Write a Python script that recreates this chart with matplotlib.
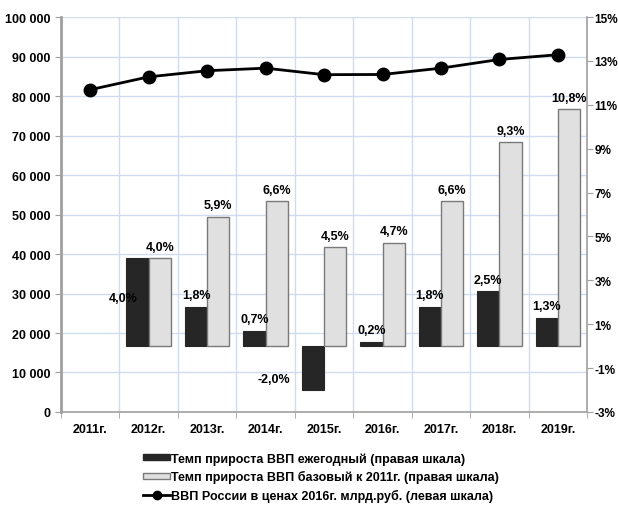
import numpy as np
import matplotlib.pyplot as plt
from matplotlib.ticker import FuncFormatter, MultipleLocator
from matplotlib.lines import Line2D
from matplotlib.patches import Patch

plt.rcParams['font.family'] = ['Liberation Sans', 'DejaVu Sans']
plt.rcParams['font.weight'] = 'bold'

years = ['2011г.', '2012г.', '2013г.', '2014г.', '2015г.', '2016г.', '2017г.', '2018г.', '2019г.']
annual = [np.nan, 4.0, 1.8, 0.7, -2.0, 0.2, 1.8, 2.5, 1.3]
base = [np.nan, 4.0, 5.9, 6.6, 4.5, 4.7, 6.6, 9.3, 10.8]
gdp = [81600, 84850, 86400, 87050, 85400, 85450, 87050, 89250, 90450]

lbl_annual = ['', '4,0%', '1,8%', '0,7%', '-2,0%', '0,2%', '1,8%', '2,5%', '1,3%']
lbl_base = ['', '4,0%', '5,9%', '6,6%', '4,5%', '4,7%', '6,6%', '9,3%', '10,8%']

dark = '#262626'
light = '#e0e0e0'
grid_c = '#cfdcf0'
spine_c = '#a0a0a0'

pos = [0.0987, 0.1838, 0.8513, 0.7806]
fig = plt.figure(figsize=(6.18, 5.06), dpi=100)
ax = fig.add_axes(pos)
ax2 = ax.twinx()

x = np.arange(len(years))

# left scale: grid and ticks
ax.set_xlim(-0.5, len(years) - 0.5)
ax.set_ylim(0, 100000)
ax.yaxis.set_major_locator(MultipleLocator(10000))
ax.yaxis.set_major_formatter(FuncFormatter(lambda v, p: f'{int(v):,}'.replace(',', ' ')))
ax.set_xticks(x)
ax.set_xticklabels(years)
ax.set_xticks(np.arange(-0.5, len(years)), minor=True)
ax.grid(True, axis='y', color=grid_c, lw=1)
ax.grid(True, axis='x', which='minor', color=grid_c, lw=1)
ax.tick_params(axis='x', which='major', length=0, pad=8, labelsize=9)
ax.tick_params(axis='x', which='minor', length=4, color=spine_c)
ax.tick_params(axis='y', length=4, color=spine_c, labelsize=9)
for s in ['top', 'right']:
    ax.spines[s].set_visible(False)
ax.spines['left'].set_color(spine_c)
ax.spines['left'].set_linewidth(2)
ax.spines['bottom'].set_color(spine_c)
ax.spines['bottom'].set_linewidth(1.2)

# right scale: bars
w = 0.38
ax2.bar(x - w / 2, annual, w, color=dark, edgecolor=dark, lw=0.8, zorder=2)
ax2.bar(x + w / 2, base, w, color=light, edgecolor='#7a7a7a', lw=1, zorder=2)
ax2.set_ylim(-3, 15)
ax2.set_yticks(np.arange(-3, 16, 2))
ax2.yaxis.set_major_formatter(FuncFormatter(lambda v, p: f'{int(v)}%'))
ax2.tick_params(axis='y', length=4, color=spine_c, labelsize=8.5, pad=1.5)
for s in ['top', 'left', 'bottom']:
    ax2.spines[s].set_visible(False)
ax2.spines['right'].set_color(spine_c)
ax2.spines['right'].set_linewidth(1.2)

for i in range(1, len(years)):
    ax2.annotate(lbl_base[i], (x[i] + w / 2, base[i]), xytext=(0, 4), textcoords='offset points',
                 ha='center', va='bottom', fontsize=9, fontweight='bold')
    if i == 1:
        ax2.text(x[i] - w / 2, 2.2, lbl_annual[i], ha='right', va='center', fontsize=9, fontweight='bold')
    elif annual[i] < 0:
        ax2.text(x[i] - w - 0.2, -1.5, lbl_annual[i], ha='right', va='center', fontsize=9, fontweight='bold')
    else:
        ax2.annotate(lbl_annual[i], (x[i] - w / 2, annual[i]), xytext=(0, 4), textcoords='offset points',
                     ha='center', va='bottom', fontsize=9, fontweight='bold')

# GDP line on top layer, left scale
line_ax = fig.add_axes(pos, sharex=ax)
line_ax.patch.set_visible(False)
line_ax.set_ylim(0, 100000)
line_ax.axis('off')
line_ax.plot(x, gdp, color='black', lw=2, marker='o', ms=9, zorder=5)

handles = [
    Patch(facecolor=dark, edgecolor=dark),
    Patch(facecolor=light, edgecolor='#7a7a7a'),
    Line2D([0], [0], color='black', lw=2, marker='o', ms=6),
]
labels = [
    'Темп прироста ВВП ежегодный (правая шкала)',
    'Темп прироста ВВП базовый к 2011г. (правая шкала)',
    'ВВП России в ценах 2016г. млрд.руб. (левая шкала)',
]
fig.legend(handles, labels, loc='upper left', bbox_to_anchor=(0.222, 0.117),
           frameon=False, fontsize=9, handlelength=2.1, handleheight=0.35,
           labelspacing=0.45, handletextpad=0.1, borderpad=0)

fig.savefig('out.png', dpi=100)
